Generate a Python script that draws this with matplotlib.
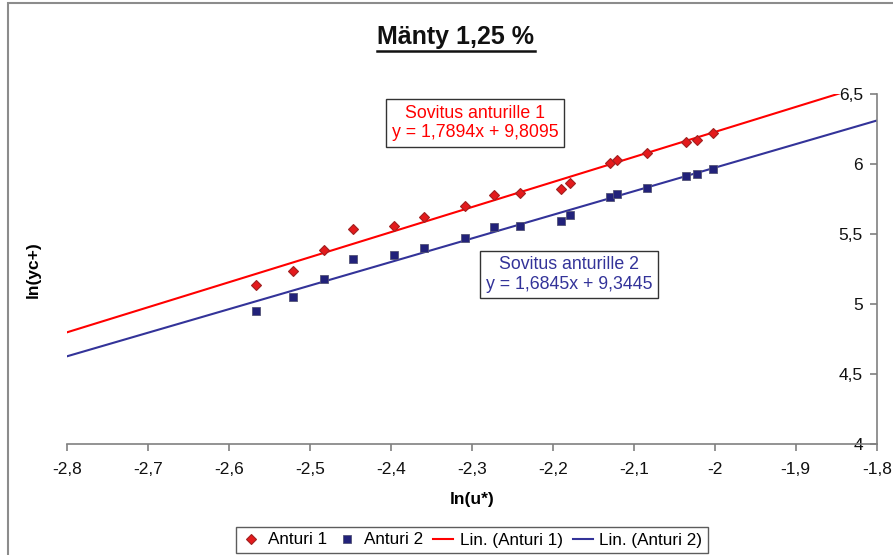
import numpy as np
import matplotlib
matplotlib.use("Agg")
import matplotlib.pyplot as plt
from matplotlib.patches import Rectangle
from matplotlib.lines import Line2D
from matplotlib.ticker import FuncFormatter, MultipleLocator

plt.rcParams['font.family'] = ['Liberation Sans', 'DejaVu Sans']

# ---- data ----
x_vals = [-2.566, -2.521, -2.482, -2.446, -2.396, -2.359, -2.308, -2.272, -2.240,
          -2.190, -2.179, -2.129, -2.121, -2.084, -2.036, -2.022, -2.002]
anturi1 = [5.138, 5.240, 5.386, 5.538, 5.559, 5.621, 5.700, 5.779, 5.795,
           5.821, 5.866, 6.011, 6.029, 6.079, 6.159, 6.174, 6.226]
anturi2 = [4.950, 5.050, 5.179, 5.324, 5.350, 5.402, 5.476, 5.554, 5.561,
           5.595, 5.636, 5.769, 5.788, 5.833, 5.916, 5.931, 5.969]
fit1 = [1.7894, 9.8095]
fit2 = [1.6845, 9.3445]
title = "Mänty 1,25 %"
xlabel = "ln(u*)"
ylabel = "ln(yc+)"
labels = ["Anturi 1", "Anturi 2", "Lin. (Anturi 1)", "Lin. (Anturi 2)"]
box1 = "Sovitus anturille 1\ny = 1,7894x + 9,8095"
box2 = "Sovitus anturille 2\ny = 1,6845x + 9,3445"

RED = '#FF0000'
NAVY = '#333399'

W, H = 893, 555
fig = plt.figure(figsize=(W / 100, H / 100), dpi=100)
ax = fig.add_axes([66.7 / W, 1 - 444.3 / H, 810 / W, 350 / H])

xlim = (-2.8, -1.8)
ylim = (4.0, 6.5)
xx = np.linspace(xlim[0], xlim[1], 200)
l1, = ax.plot(xx, np.polyval(fit1, xx), color=RED, lw=1.5, zorder=2)
l2, = ax.plot(xx, np.polyval(fit2, xx), color=NAVY, lw=1.5, zorder=2)
s1, = ax.plot(x_vals, anturi1, ls='none', marker='D', ms=4.8, mfc='#E41A1C',
              mec='#A02020', mew=0.8, zorder=3)
s2, = ax.plot(x_vals, anturi2, ls='none', marker='s', ms=5.3, mfc='#22227A',
              mec='#555577', mew=0.6, zorder=3)

ax.set_xlim(*xlim)
ax.set_ylim(*ylim)
ax.xaxis.set_major_locator(MultipleLocator(0.1))
ax.yaxis.set_major_locator(MultipleLocator(0.5))

def fmt(v, pos):
    s = f"{v:.2f}".rstrip('0').rstrip('.')
    if s in ('-0', ''):
        s = '0'
    return s.replace('.', ',')

ax.xaxis.set_major_formatter(FuncFormatter(fmt))
ax.yaxis.set_major_formatter(FuncFormatter(fmt))

for sp in ['top', 'right']:
    ax.spines[sp].set_visible(False)
ax.spines['left'].set_position(('data', -1.8))
for sp in ['left', 'bottom']:
    ax.spines[sp].set_color('#808080')
    ax.spines[sp].set_linewidth(1.2)
ax.tick_params(axis='both', direction='out', length=5, width=1.2, color='#808080',
               labelsize=12.5, labelcolor='#111111')
ax.tick_params(axis='x', pad=8)
ax.tick_params(axis='y', pad=5)
ax.patch.set_alpha(0)

ax.set_xlabel(xlabel, fontsize=12.5, fontweight='bold', va='center')
ax.xaxis.set_label_coords(0.5, -0.159)
ax.set_ylabel(ylabel, fontsize=12.5, fontweight='bold', va='center', ha='center')
ax.yaxis.set_label_coords(-0.0416, 0.5)

# title with underline
t = fig.text(456 / W, 1 - 37 / H, title, fontsize=18, fontweight='bold',
             ha='center', va='center', color='#111111')

# fit text boxes
fig.text(475 / W, 1 - 123 / H, box1, color=RED, fontsize=12.8, ha='center',
         va='center', multialignment='center',
         bbox=dict(boxstyle='square,pad=0.3', fc='white', ec='#333333', lw=1))
fig.text(569 / W, 1 - 274.7 / H, box2, color=NAVY, fontsize=12.8, ha='center',
         va='center', multialignment='center',
         bbox=dict(boxstyle='square,pad=0.3', fc='white', ec='#333333', lw=1))

# legend
leg = fig.legend([s1, s2, l1, l2], labels, loc='center', ncol=4,
                 bbox_to_anchor=(472 / W, 1 - 540 / H), fontsize=12.3,
                 frameon=True, fancybox=False, edgecolor='#333333',
                 handlelength=1.15, handletextpad=0.4, columnspacing=0.6,
                 borderpad=0.3, borderaxespad=0)
leg.get_frame().set_linewidth(1)

# chart area border
fig.add_artist(Rectangle((8 / W, -0.1), 1.2, 1.1 - 3 / H, transform=fig.transFigure,
                         fill=False, ec='#8c8c8c', lw=1.5))

fig.canvas.draw()
bb = t.get_window_extent()
inv = fig.transFigure.inverted()
(x0, y0), (x1, y1) = inv.transform([[bb.x0, bb.y0], [bb.x1, bb.y1]])
fig.add_artist(Line2D([x0, x1], [y0 - 2 / H, y0 - 2 / H], transform=fig.transFigure,
                      color='#111111', lw=1.8))

fig.savefig("out.png", dpi=100)
